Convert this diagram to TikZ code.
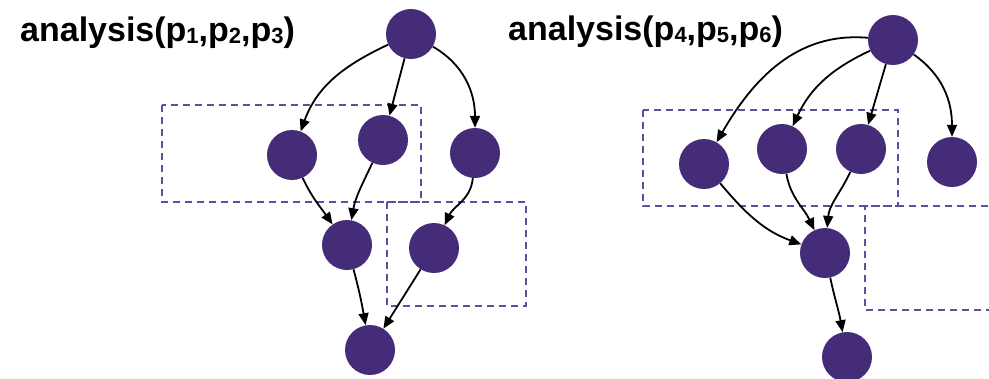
\documentclass[tikz,border=0pt]{standalone}
\usepackage{fontspec}
\setmainfont{Liberation Sans}
\usetikzlibrary{arrows.meta}
\definecolor{nodepurple}{HTML}{452C78}
\definecolor{boxpurple}{HTML}{5E4E9E}
\tikzset{
  vert/.style={circle, fill=nodepurple, minimum size=50pt, inner sep=0pt},
  edge/.style={draw=black, line width=1.8pt, -{Triangle[length=12pt,width=10pt]}},
  partbox/.style={draw=boxpurple, line width=1.1pt, dash pattern=on 7pt off 5pt},
  titletext/.style={anchor=base west, inner sep=0pt, font=\fontsize{34}{34}\selectfont\bfseries}
}
\newcommand{\psub}[1]{\raisebox{-2pt}{\fontsize{22}{22}\selectfont #1}}
\begin{document}
\begin{tikzpicture}[x=1pt,y=-1pt]
\useasboundingbox (0,0) rectangle (989,378);
% titles
\node[titletext] (t1) at (20,41) {analysis(p\psub{1},p\psub{2},p\psub{3})};
\node[titletext] (t2) at (508,40) {analysis(p\psub{4},p\psub{5},p\psub{6})};
% boxes
\draw[partbox] (162,105) rectangle (421,202);
\draw[partbox] (387,202) rectangle (526,306);
\draw[partbox] (643,110) rectangle (898,206);
\draw[partbox] (1000,206) -- (865,206) -- (865,310) -- (1000,310);
% left graph
\node[vert] (a) at (411,34) {};
\node[vert] (b) at (292,155) {};
\node[vert] (c) at (383,140) {};
\node[vert] (d) at (475,153) {};
\node[vert] (e) at (347,245) {};
\node[vert] (f) at (434,248) {};
\node[vert] (g) at (370,350) {};
\draw[edge] (a) to[out=205,in=70] (b);
\draw[edge] (a) -- (c);
\draw[edge] (a) to[out=-30,in=90] (d);
\draw[edge] (b) to[out=-65,in=125] (e);
\draw[edge] (c) to[out=-115,in=80] (e);
\draw[edge] (d) to[out=-95,in=65] (f);
\draw[edge] (e) to[out=-75,in=100] (g);
\draw[edge] (f) -- (g);
% right graph
\node[vert] (a2) at (893,40) {};
\node[vert] (b2) at (704,164) {};
\node[vert] (c2) at (782,149) {};
\node[vert] (d2) at (861,149) {};
\node[vert] (e2) at (952,162) {};
\node[vert] (f2) at (825,253) {};
\node[vert] (g2) at (847,357) {};
\draw[edge] (a2) to[out=175,in=60] (b2);
\draw[edge] (a2) to[out=205,in=65] (c2);
\draw[edge] (a2) -- (d2);
\draw[edge] (a2) to[out=-35,in=90] (e2);
\draw[edge] (b2) to[out=-50,in=160] (f2);
\draw[edge] (c2) to[out=-80,in=115] (f2);
\draw[edge] (d2) to[out=-115,in=85] (f2);
\draw[edge] (f2) to[out=-78,in=100] (g2);
\end{tikzpicture}
\end{document}
